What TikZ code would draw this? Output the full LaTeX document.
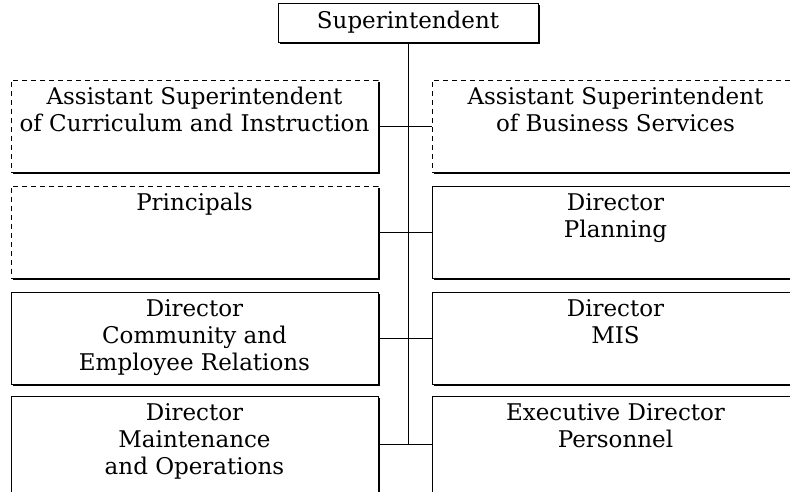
\documentclass[tikz,border=0pt]{standalone}
\usepackage{fontspec}
\setmainfont{DejaVu Serif}
\usetikzlibrary{positioning}
\usetikzlibrary{shadows}
\tikzset{box/.style={rectangle, draw=black, line width=1pt, fill=white, inner sep=0pt, minimum width=367pt, minimum height=92pt, font=\fontsize{23}{27}\selectfont, drop shadow={shadow xshift=2pt, shadow yshift=-2pt, fill=black, draw=none, opacity=1}}}
\tikzset{dbox/.style={box, dash pattern=on 5pt off 4pt}}
\tikzset{txt/.style={align=center, inner sep=0pt, font=\fontsize{23}{27}\selectfont}}
\tikzset{link/.style={line width=1pt}}

\begin{document}
\begin{tikzpicture}[x=1pt,y=-1pt]
\useasboundingbox (0,0) rectangle (790,491);
\node (sup) at (408,22.5) [box, minimum width=260pt, minimum height=39pt] {Superintendent};
\node (l1) at (194.5,126) [dbox] {};
\node (r1) at (615.5,126) [dbox] {};
\node (l2) at (194.5,232) [dbox] {};
\node (r2) at (615.5,232) [box] {};
\node (l3) at (194.5,338) [box] {};
\node (r3) at (615.5,338) [box] {};
\node (l4) at (194.5,444) [box, minimum height=96pt] {};
\node (r4) at (615.5,444) [box, minimum height=96pt] {};
\node (l1t) [txt, below=6pt of l1.north] {\strut Assistant Superintendent\\of Curriculum and Instruction};
\node (r1t) [txt, below=6pt of r1.north] {\strut Assistant Superintendent\\of Business Services};
\node (l2t) [txt, below=6pt of l2.north] {\strut Principals};
\node (r2t) [txt, below=6pt of r2.north] {\strut Director\\Planning};
\node (l3t) [txt, below=6pt of l3.north] {\strut Director\\Community and\\Employee Relations};
\node (r3t) [txt, below=6pt of r3.north] {\strut Director\\MIS};
\node (l4t) [txt, below=6pt of l4.north] {\strut Director\\Maintenance\\and Operations};
\node (r4t) [txt, below=6pt of r4.north] {\strut Executive Director\\Personnel};
\draw[link] (sup.south) -- (sup.south |- l4.east);
\draw[link] (l1.east) -- (r1.west);
\draw[link] (l2.east) -- (r2.west);
\draw[link] (l3.east) -- (r3.west);
\draw[link] (l4.east) -- (r4.west);
\end{tikzpicture}
\end{document}
